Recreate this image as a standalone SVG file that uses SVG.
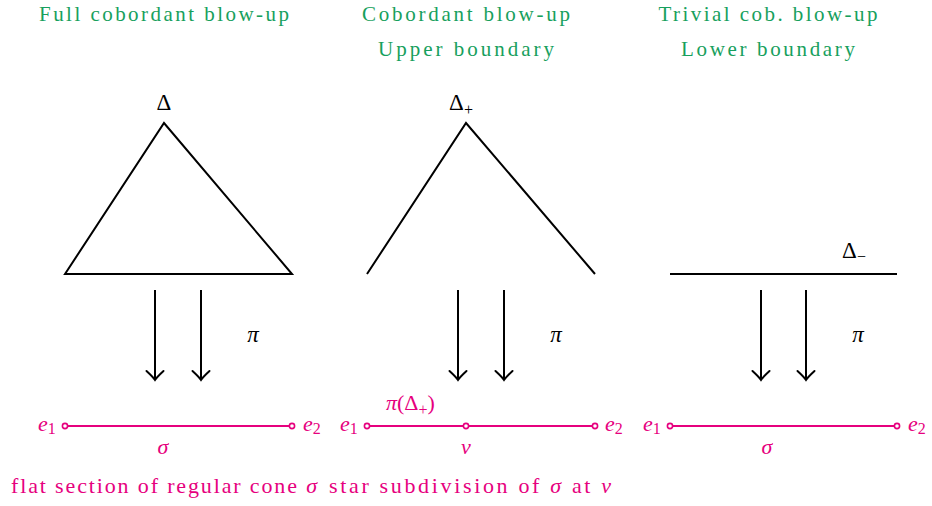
<svg xmlns="http://www.w3.org/2000/svg" width="932" height="506" viewBox="0 0 932 506" font-family="'Liberation Serif', 'DejaVu Serif', serif">
<style>
text{font-family:"Liberation Serif","DejaVu Serif",serif}
.t{font-size:21px;fill:#17a05d;text-anchor:middle}
.c{font-size:22px;fill:#e6007e}
.m{font-size:23px;fill:#000}
.mi{font-style:italic}
.s{font-size:16px}
.shape{fill:none;stroke:#000;stroke-width:2;stroke-linejoin:miter}
.arr{fill:none;stroke:#000;stroke-width:2;marker-end:url(#ah)}
.seg{stroke:#e6007e;stroke-width:2}
.dot{fill:#fff;stroke:#e6007e;stroke-width:1.6}
</style>
<defs>
<marker id="ah" markerUnits="userSpaceOnUse" viewBox="-12 -11 14 22" refX="0" refY="0" markerWidth="14" markerHeight="22" orient="auto">
<path d="M -9 -8.5 Q -3 -2 0 0 Q -3 2 -9 8.5" fill="none" stroke="#000" stroke-width="2" stroke-linecap="round"/>
</marker>
</defs>
<g id="titles">
<text class="t" x="164" y="21" textLength="250" lengthAdjust="spacing">Full cobordant blow-up</text>
<text class="t" x="466" y="21" textLength="208" lengthAdjust="spacing">Cobordant blow-up</text>
<text class="t" x="466" y="56" textLength="176" lengthAdjust="spacing">Upper boundary</text>
<text class="t" x="768" y="21" textLength="219" lengthAdjust="spacing">Trivial cob. blow-up</text>
<text class="t" x="768" y="56" textLength="174" lengthAdjust="spacing">Lower boundary</text>
</g>
<g id="full">
<path class="shape" d="M65 274 L164 123 L292 274 Z"/>
<text class="m" x="164" y="110" text-anchor="middle">Δ</text>
</g>
<g id="upper">
<path class="shape" d="M367 274 L466 123 L595 274"/>
<text class="m" x="461" y="110" text-anchor="middle">Δ<tspan class="s" dy="5">+</tspan></text>
</g>
<g id="lower">
<path class="shape" d="M670 274 L897 274"/>
<text class="m" x="854" y="258" text-anchor="middle">Δ<tspan class="s" dy="4">−</tspan></text>
</g>
<g id="connectors">
<line class="arr" x1="155" y1="290" x2="155" y2="380"/>
<line class="arr" x1="201" y1="290" x2="201" y2="380"/>
<line class="arr" x1="458" y1="290" x2="458" y2="380"/>
<line class="arr" x1="504" y1="290" x2="504" y2="380"/>
<line class="arr" x1="761" y1="290" x2="761" y2="380"/>
<line class="arr" x1="806" y1="290" x2="806" y2="380"/>
<text class="m mi" x="253" y="342" text-anchor="middle">π</text>
<text class="m mi" x="556" y="342" text-anchor="middle">π</text>
<text class="m mi" x="858" y="342" text-anchor="middle">π</text>
</g>
<g id="sigma1">
<line class="seg" x1="65" y1="426" x2="292" y2="426"/>
<circle class="dot" cx="65" cy="426" r="2.6"/>
<circle class="dot" cx="292" cy="426" r="2.6"/>
<text class="c" x="38" y="431"><tspan class="mi">e</tspan><tspan class="s" dy="3">1</tspan></text>
<text class="c" x="303" y="431"><tspan class="mi">e</tspan><tspan class="s" dy="3">2</tspan></text>
<text class="c mi" x="163" y="454" text-anchor="middle">σ</text>
<text class="c" x="164" y="493" text-anchor="middle" textLength="306" lengthAdjust="spacing">flat section of regular cone <tspan class="mi">σ</tspan></text>
</g>
<g id="sigma2">
<line class="seg" x1="367" y1="426" x2="595" y2="426"/>
<circle class="dot" cx="367" cy="426" r="2.6"/>
<circle class="dot" cx="466" cy="426" r="2.6"/>
<circle class="dot" cx="595" cy="426" r="2.6"/>
<text class="c" x="340" y="431"><tspan class="mi">e</tspan><tspan class="s" dy="3">1</tspan></text>
<text class="c" x="605" y="431"><tspan class="mi">e</tspan><tspan class="s" dy="3">2</tspan></text>
<text class="c" x="386" y="410"><tspan class="mi">π</tspan>(Δ<tspan class="s" dy="5">+</tspan><tspan dy="-5">)</tspan></text>
<text class="c mi" x="466" y="454" text-anchor="middle">v</text>
<text class="c" x="470" y="493" text-anchor="middle" textLength="282" lengthAdjust="spacing">star subdivision of <tspan class="mi">σ</tspan> at <tspan class="mi">v</tspan></text>
</g>
<g id="sigma3">
<line class="seg" x1="670" y1="426" x2="897" y2="426"/>
<circle class="dot" cx="670" cy="426" r="2.6"/>
<circle class="dot" cx="897" cy="426" r="2.6"/>
<text class="c" x="643" y="431"><tspan class="mi">e</tspan><tspan class="s" dy="3">1</tspan></text>
<text class="c" x="908" y="431"><tspan class="mi">e</tspan><tspan class="s" dy="3">2</tspan></text>
<text class="c mi" x="767" y="454" text-anchor="middle">σ</text>
</g>
</svg>
